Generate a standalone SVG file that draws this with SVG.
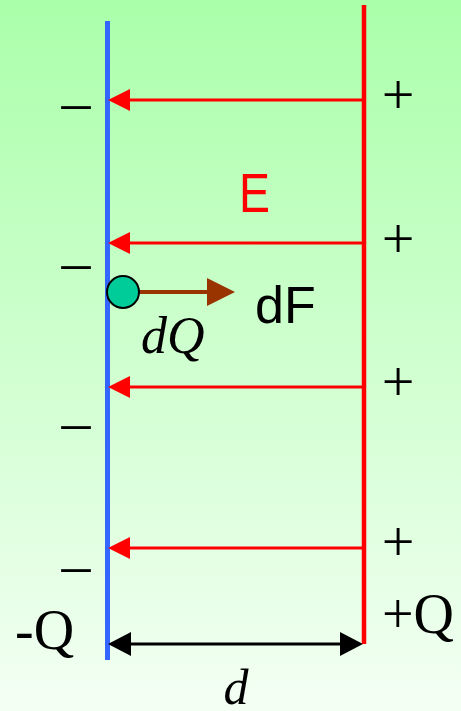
<svg xmlns="http://www.w3.org/2000/svg" width="461" height="711" viewBox="0 0 461 711">
<defs>
<linearGradient id="bg" x1="0" y1="0" x2="0" y2="1">
<stop offset="0" stop-color="#aaffaa"/>
<stop offset="1" stop-color="#f4fff4"/>
</linearGradient>
<marker id="redHead" viewBox="0 0 22 22" refX="0" refY="11" markerWidth="22" markerHeight="22" markerUnits="userSpaceOnUse" orient="auto-start-reverse">
<path d="M0,0 L22,11 L0,22 Z" fill="#ff0000"/>
</marker>
<marker id="blackHead" viewBox="0 0 23 24" refX="0" refY="12" markerWidth="23" markerHeight="24" markerUnits="userSpaceOnUse" orient="auto-start-reverse">
<path d="M0,0 L23,12 L0,24 Z" fill="#000"/>
</marker>
<marker id="brownHead" viewBox="0 0 28 28" refX="0" refY="14" markerWidth="28" markerHeight="28" markerUnits="userSpaceOnUse" orient="auto">
<path d="M0,0 L28,14 L0,28 Z" fill="#993300"/>
</marker>
</defs>
<style>
.field{stroke:#ff0000;stroke-width:3;fill:none;marker-start:url(#redHead)}
.sign{font-family:"Liberation Serif",serif;font-size:58px;fill:#000}
.serif{font-family:"Liberation Serif",serif;fill:#000}
.sans{font-family:"Liberation Sans",sans-serif}
</style>
<rect x="0" y="0" width="461" height="711" fill="url(#bg)"/>
<g id="plates">
<line id="negative-plate" x1="107.5" y1="21" x2="107.5" y2="660" stroke="#3366ff" stroke-width="5"/>
<line id="positive-plate" x1="364" y1="5" x2="364" y2="644" stroke="#ff0000" stroke-width="4.5"/>
</g>
<g id="connectors">
<line class="field" x1="130" y1="100" x2="362" y2="100"/>
<line class="field" x1="130" y1="243" x2="362" y2="243"/>
<line class="field" x1="130" y1="387" x2="362" y2="387"/>
<line class="field" x1="130" y1="548" x2="362" y2="548"/>
<line x1="131" y1="644" x2="340" y2="644" stroke="#000" stroke-width="3" marker-start="url(#blackHead)" marker-end="url(#blackHead)"/>
<line x1="139" y1="292" x2="207" y2="292" stroke="#993300" stroke-width="4" marker-end="url(#brownHead)"/>
</g>
<g id="charge">
<circle cx="123" cy="292" r="16" fill="#00cc99" stroke="#000" stroke-width="2"/>
</g>
<g id="signs">
<text class="sign" x="76" y="121" text-anchor="middle">–</text>
<text class="sign" x="76" y="281" text-anchor="middle">–</text>
<text class="sign" x="76" y="441" text-anchor="middle">–</text>
<text class="sign" x="76" y="584" text-anchor="middle">–</text>
<text class="sign" x="398" y="114" text-anchor="middle">+</text>
<text class="sign" x="398" y="258" text-anchor="middle">+</text>
<text class="sign" x="398" y="401" text-anchor="middle">+</text>
<text class="sign" x="398" y="561" text-anchor="middle">+</text>
</g>
<g id="labels">
<text class="sans" transform="translate(239,212) scale(0.83,1)" font-size="56" fill="#ff0000">E</text>
<text class="sans" x="255" y="323" font-size="52" fill="#000">dF</text>
<text class="serif" x="141" y="353" font-size="52" font-style="italic">dQ</text>
<text class="serif" x="15" y="649" font-size="56">-Q</text>
<text class="serif" x="382" y="633" font-size="56">+Q</text>
<text class="serif" x="236" y="704" font-size="50" font-style="italic" text-anchor="middle">d</text>
</g>
</svg>
